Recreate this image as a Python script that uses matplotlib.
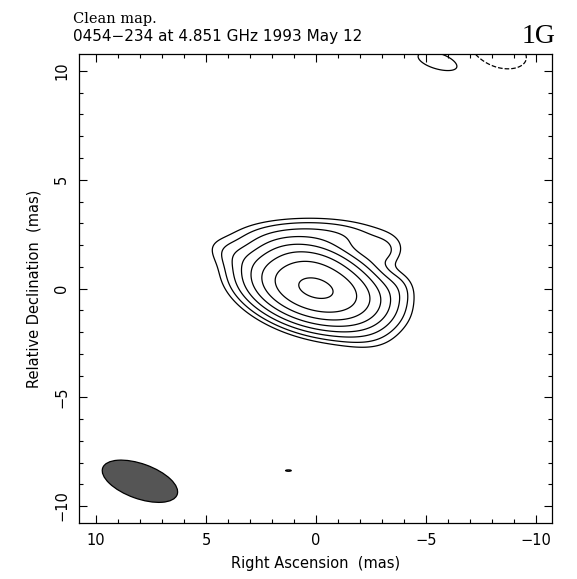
import numpy as np
import matplotlib
matplotlib.use("Agg")
import matplotlib.pyplot as plt
from matplotlib.patches import Ellipse
from matplotlib.ticker import MultipleLocator

# model components (RA offset mas, Dec offset mas, flux, sigma major, sigma minor, angle deg)
comp_ra = [0.0, 0.2, 0.2, 3.4, -3.6, -3.0, -2.0, -5.6, -8.3, 1.25]
comp_dec = [0.0, 1.3, 2.3, 1.4, 0.0, 1.7, -1.8, 10.45, 10.85, -8.37]
comp_flux = [1.0, 0.11, 0.033, 0.011, 0.009, 0.012, 0.008, 0.009, -0.012, 0.0075]
comp_smaj = [1.4, 1.1, 1.8, 0.95, 0.55, 0.6, 1.0, 1.1, 1.1, 0.2]
comp_smin = [0.74, 0.45, 0.5, 0.42, 0.5, 0.45, 0.6, 0.42, 0.6, 0.05]
comp_pa = [15, 10, 0, 20, 0, 0, 20, 15, 15, 0]

# contour levels, percent of peak
levels_pct = [-0.6, 0.6, 1.2, 2.5, 5, 10, 20, 40, 85]

# restoring beam (centre RA, Dec, major, minor, angle)
beam_ra, beam_dec = 8.0, -8.86
beam_maj, beam_min, beam_pa = 3.6, 1.6, 20

ra = np.linspace(11.5, -11.5, 921)
dec = np.linspace(-11.5, 11.5, 921)
RA, DEC = np.meshgrid(ra, dec)
img = np.zeros_like(RA)
for x0, y0, f, a, b, pa in zip(comp_ra, comp_dec, comp_flux, comp_smaj, comp_smin, comp_pa):
    t = np.radians(pa)
    dx = RA - x0
    dy = DEC - y0
    u = dx * np.cos(t) + dy * np.sin(t)
    v = -dx * np.sin(t) + dy * np.cos(t)
    img += f * np.exp(-0.5 * (u**2 / a**2 + v**2 / b**2))

peak = img.max()
levels = [l / 100.0 * peak for l in levels_pct]

fig = plt.figure(figsize=(5.77, 5.79), dpi=100)
ax = fig.add_axes([0.1369, 0.0967, 0.8198, 0.81])
ax.contour(RA, DEC, img, levels=levels, colors='black', linewidths=0.9,
           negative_linestyles='dashed')
ax.add_patch(Ellipse((beam_ra, beam_dec), beam_maj, beam_min, angle=beam_pa,
                     facecolor='#555555', edgecolor='black', lw=0.9))

ax.set_xlim(10.77, -10.73)
ax.set_ylim(-10.78, 10.78)
ax.xaxis.set_major_locator(MultipleLocator(5))
ax.xaxis.set_minor_locator(MultipleLocator(1))
ax.yaxis.set_major_locator(MultipleLocator(5))
ax.yaxis.set_minor_locator(MultipleLocator(1))
ax.tick_params(which='both', direction='in', top=True, right=True, width=0.8,
               labelsize=10.5, pad=7)
ax.tick_params(which='major', length=6)
ax.tick_params(which='minor', length=3)
for lab in ax.get_yticklabels():
    lab.set_rotation(90)
    lab.set_va('center')
for s in ax.spines.values():
    s.set_linewidth(0.9)

ax.set_xlabel('Right Ascension  (mas)', fontsize=10.5, labelpad=6)
ax.set_ylabel('Relative Declination  (mas)', fontsize=10.5, labelpad=9)

fig.text(0.1265, 0.968, 'Clean map.', family='DejaVu Serif', fontsize=10.5, va='center')
fig.text(0.1265, 0.937, '0454\u2212234 at 4.851 GHz 1993 May 12', fontsize=11, va='center')
fig.text(0.962, 0.937, '1G', family='Liberation Serif', fontsize=20, va='center', ha='right')

fig.savefig('out.png', dpi=100)
